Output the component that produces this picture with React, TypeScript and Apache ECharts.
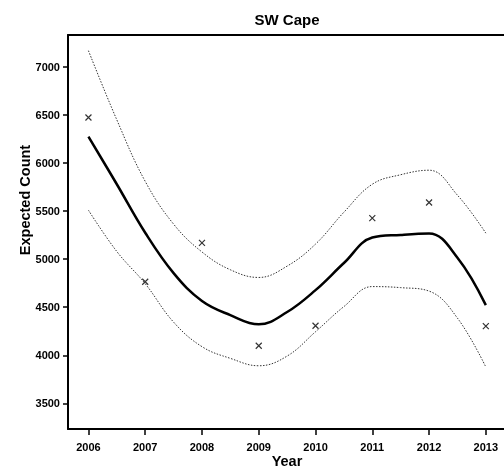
import React, { useEffect, useRef } from "react";
import * as echarts from "echarts";

const years = [2006, 2006.5, 2007, 2007.5, 2008, 2008.5, 2009, 2009.5, 2010, 2010.5, 2011, 2011.5, 2012, 2012.5, 2013];
const fit = [6275, 5780, 5275, 4855, 4565, 4418, 4322, 4450, 4678, 4960, 5225, 5253, 5268, 5016, 4522];
const upper = [7170, 6450, 5810, 5365, 5075, 4890, 4810, 4928, 5157, 5489, 5780, 5879, 5926, 5666, 5271];
const lower = [5510, 5080, 4745, 4345, 4090, 3968, 3891, 3992, 4245, 4507, 4715, 4704, 4668, 4387, 3878];
const obsYears = [2006, 2007, 2008, 2009, 2010, 2011, 2012, 2013];
const observed = [6474, 4765, 5170, 4099, 4307, 5427, 5590, 4304];
const xTicks = [2006, 2007, 2008, 2009, 2010, 2011, 2012, 2013];
const yTicks = [3500, 4000, 4500, 5000, 5500, 6000, 6500, 7000];

const FONT = "Liberation Sans, Arial, sans-serif";

export default function App() {
  const ref = useRef<HTMLDivElement>(null);
  useEffect(() => {
    if (!ref.current) return;
    const chart = echarts.init(ref.current, undefined, { renderer: "svg" });
    const pair = (xs: number[], ys: number[]) => xs.map((x, i) => [x, ys[i]]);
    const band = {
      type: "line",
      smooth: 0.4,
      showSymbol: false,
      symbol: "none",
      lineStyle: { color: "#333", width: 1, type: [1.5, 1.5] },
    };
    chart.setOption({
      animation: false,
      grid: { left: 68, top: 35, right: 0, bottom: 42 },
      graphic: [
        {
          type: "text",
          x: 287,
          y: 19,
          style: { text: "SW Cape", fontFamily: FONT, fontWeight: "bold", fontSize: 15, fill: "#000", textAlign: "center", textVerticalAlign: "middle" },
        },
        {
          type: "text",
          x: 25,
          y: 200,
          rotation: Math.PI / 2,
          style: { text: "Expected Count", fontFamily: FONT, fontWeight: "bold", fontSize: 14.5, fill: "#000", textAlign: "center", textVerticalAlign: "middle" },
        },
        {
          type: "text",
          x: 287,
          y: 461,
          style: { text: "Year", fontFamily: FONT, fontWeight: "bold", fontSize: 14.5, fill: "#000", textAlign: "center", textVerticalAlign: "middle" },
        },
      ],
      xAxis: [
        {
          type: "value",
          min: 2005.64,
          max: 2013.32,
          axisLine: { show: true, onZero: false, lineStyle: { color: "#000", width: 2 } },
          axisTick: { show: true, customValues: xTicks, length: 6, lineStyle: { color: "#000", width: 1.5 } },
          axisLabel: {
            customValues: xTicks,
            margin: 12,
            fontFamily: FONT,
            fontWeight: "bold",
            fontSize: 11,
            color: "#000",
            formatter: (v: number) => String(v),
          },
          splitLine: { show: false },
        },
        {
          type: "value",
          position: "top",
          min: 2005.64,
          max: 2013.32,
          axisLine: { show: true, onZero: false, lineStyle: { color: "#000", width: 2 } },
          axisTick: { show: false },
          axisLabel: { show: false },
          splitLine: { show: false },
        },
      ],
      yAxis: {
        type: "value",
        min: 3233,
        max: 7333,
        axisLine: { show: true, onZero: false, lineStyle: { color: "#000", width: 2 } },
        axisTick: { show: true, customValues: yTicks, length: 5, lineStyle: { color: "#000", width: 1.5 } },
        axisLabel: {
          customValues: yTicks,
          margin: 8,
          fontFamily: FONT,
          fontWeight: "bold",
          fontSize: 11,
          color: "#000",
          formatter: (v: number) => String(v),
        },
        splitLine: { show: false },
      },
      series: [
        { ...band, name: "upper", data: pair(years, upper) },
        { ...band, name: "lower", data: pair(years, lower) },
        {
          type: "line",
          name: "fit",
          smooth: 0.4,
          showSymbol: false,
          symbol: "none",
          lineStyle: { color: "#000", width: 2.5 },
          data: pair(years, fit),
        },
        {
          type: "scatter",
          name: "observed",
          symbol: "path://M0,0L10,10M10,0L0,10",
          symbolSize: 6,
          itemStyle: { color: "none", borderColor: "#000", borderWidth: 1.2 },
          data: pair(obsYears, observed),
        },
      ],
    });
    return () => chart.dispose();
  }, []);
  return <div ref={ref} style={{ position: "fixed", left: 0, top: 0, width: 504, height: 471 }} />;
}
